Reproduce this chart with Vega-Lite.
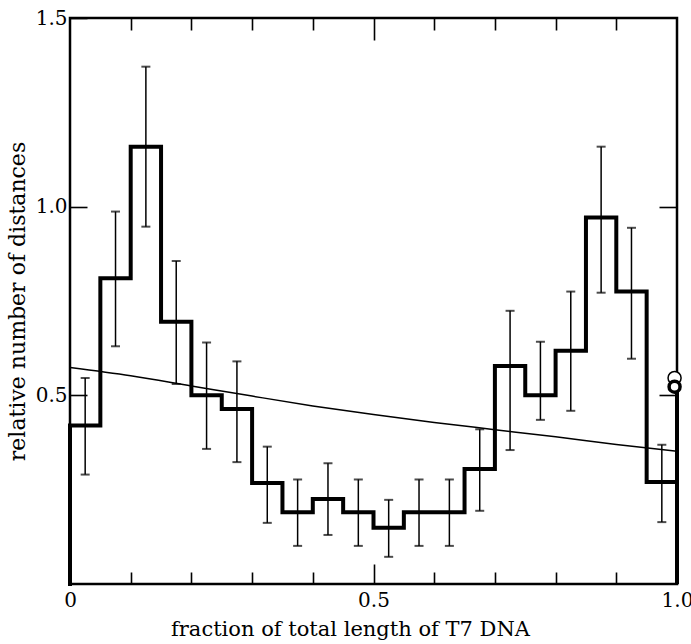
{
  "$schema": "https://vega.github.io/schema/vega-lite/v6.json",
  "width": 607,
  "height": 566,
  "autosize": "none",
  "padding": {"left": 70, "top": 18, "right": 14, "bottom": 60},
  "background": "white",
  "config": {
    "view": {"stroke": "black", "strokeWidth": 2.5},
    "font": "DejaVu Serif",
    "axis": {
      "domain": false,
      "grid": false,
      "tickColor": "black",
      "tickWidth": 1.6,
      "labelColor": "black",
      "titleColor": "black",
      "labelFont": "DejaVu Serif",
      "titleFont": "DejaVu Serif",
      "labelFontSize": 20,
      "titleFontSize": 21,
      "titleFontWeight": "normal",
      "labelFlush": false,
      "labelOverlap": false
    }
  },
  "datasets": {
    "hist": [
      {"seq": 0, "x": 0, "y": 0},
      {"seq": 1, "x": 0, "y": 0.42},
      {"seq": 2, "x": 0.05, "y": 0.81},
      {"seq": 3, "x": 0.10, "y": 1.159},
      {"seq": 4, "x": 0.15, "y": 0.695},
      {"seq": 5, "x": 0.20, "y": 0.50},
      {"seq": 6, "x": 0.25, "y": 0.464},
      {"seq": 7, "x": 0.30, "y": 0.268},
      {"seq": 8, "x": 0.35, "y": 0.19},
      {"seq": 9, "x": 0.40, "y": 0.225},
      {"seq": 10, "x": 0.45, "y": 0.19},
      {"seq": 11, "x": 0.50, "y": 0.149},
      {"seq": 12, "x": 0.55, "y": 0.19},
      {"seq": 13, "x": 0.60, "y": 0.19},
      {"seq": 14, "x": 0.65, "y": 0.305},
      {"seq": 15, "x": 0.70, "y": 0.578},
      {"seq": 16, "x": 0.75, "y": 0.50},
      {"seq": 17, "x": 0.80, "y": 0.618},
      {"seq": 18, "x": 0.85, "y": 0.971},
      {"seq": 19, "x": 0.90, "y": 0.775},
      {"seq": 20, "x": 0.95, "y": 0.27},
      {"seq": 21, "x": 1.0, "y": 0},
      {"seq": 22, "x": 1.0, "y": 0.523}
    ],
    "err": [
      {"x": 0.025, "lo": 0.29, "hi": 0.546},
      {"x": 0.075, "lo": 0.63, "hi": 0.987},
      {"x": 0.125, "lo": 0.947, "hi": 1.371},
      {"x": 0.175, "lo": 0.53, "hi": 0.856},
      {"x": 0.225, "lo": 0.358, "hi": 0.64},
      {"x": 0.275, "lo": 0.323, "hi": 0.59},
      {"x": 0.325, "lo": 0.162, "hi": 0.364},
      {"x": 0.375, "lo": 0.101, "hi": 0.277},
      {"x": 0.425, "lo": 0.13, "hi": 0.32},
      {"x": 0.475, "lo": 0.101, "hi": 0.277},
      {"x": 0.525, "lo": 0.072, "hi": 0.223},
      {"x": 0.575, "lo": 0.101, "hi": 0.277},
      {"x": 0.625, "lo": 0.101, "hi": 0.277},
      {"x": 0.675, "lo": 0.194, "hi": 0.41},
      {"x": 0.725, "lo": 0.355, "hi": 0.724},
      {"x": 0.775, "lo": 0.435, "hi": 0.642},
      {"x": 0.825, "lo": 0.459, "hi": 0.775},
      {"x": 0.875, "lo": 0.772, "hi": 1.159},
      {"x": 0.925, "lo": 0.597, "hi": 0.944},
      {"x": 0.975, "lo": 0.164, "hi": 0.369}
    ],
    "curve": [
      {"x": 0.0, "y": 0.574},
      {"x": 0.1, "y": 0.552},
      {"x": 0.2, "y": 0.525},
      {"x": 0.3, "y": 0.498},
      {"x": 0.4, "y": 0.472},
      {"x": 0.5, "y": 0.449},
      {"x": 0.6, "y": 0.428},
      {"x": 0.7, "y": 0.409},
      {"x": 0.8, "y": 0.39},
      {"x": 0.9, "y": 0.37},
      {"x": 1.0, "y": 0.352}
    ],
    "pts": [
      {"x": 0.996, "y": 0.546, "kind": "open"},
      {"x": 0.996, "y": 0.523, "kind": "closed"}
    ]
  },
  "layer": [
    {
      "data": {"name": "curve"},
      "mark": {"type": "line", "color": "black", "strokeWidth": 1.5, "interpolate": "monotone"},
      "encoding": {
        "x": {
          "field": "x", "type": "quantitative",
          "scale": {"domain": [0, 1], "nice": false, "zero": false},
          "axis": {
            "orient": "top", "labels": false, "title": null,
            "values": [0.1, 0.2, 0.3, 0.4, 0.5, 0.6, 0.7, 0.8, 0.9],
            "tickSize": {"condition": {"test": "datum.value == 0.5", "value": -22}, "value": -12}
          }
        },
        "y": {
          "field": "y", "type": "quantitative",
          "scale": {"domain": [0, 1.5], "nice": false},
          "axis": {
            "orient": "right", "labels": false, "title": null,
            "values": [0.5, 1.0], "tickSize": -18
          }
        }
      }
    },
    {
      "data": {"name": "err"},
      "mark": {"type": "errorbar", "color": "black", "rule": {"strokeWidth": 1.5}, "ticks": {"size": 9, "thickness": 2}},
      "encoding": {
        "x": {"field": "x", "type": "quantitative", "axis": null},
        "y": {"field": "lo", "type": "quantitative", "axis": null},
        "y2": {"field": "hi"}
      }
    },
    {
      "data": {"name": "hist"},
      "mark": {"type": "line", "color": "black", "strokeWidth": 4, "interpolate": "step-after", "strokeJoin": "miter", "strokeCap": "square"},
      "encoding": {
        "x": {
          "field": "x", "type": "quantitative",
          "axis": {
            "orient": "bottom",
            "title": "fraction of total length of T7 DNA",
            "titlePadding": 8,
            "titleX": 280,
            "titleAnchor": "start",
            "titleAlign": "center",
            "values": [0, 0.1, 0.2, 0.3, 0.4, 0.5, 0.6, 0.7, 0.8, 0.9, 1],
            "labelExpr": "datum.value == 0 ? '0' : datum.value == 0.5 ? '0.5' : datum.value == 1 ? '1.0' : ''",
            "tickSize": {"condition": {"test": "datum.value == 0.5", "value": -20}, "value": -12},
            "labelPadding": {"condition": {"test": "datum.value == 0.5", "value": 26}, "value": 18}
          }
        },
        "y": {
          "field": "y", "type": "quantitative",
          "axis": {
            "orient": "left",
            "title": "relative number of distances",
            "titleFontSize": 22,
            "titlePadding": 6,
            "values": [0.5, 1.0, 1.5],
            "format": ".1f",
            "tickSize": -17,
            "labelPadding": 20
          }
        },
        "order": {"field": "seq", "type": "quantitative"}
      }
    },
    {
      "data": {"name": "pts"},
      "transform": [{"filter": "datum.kind == 'open'"}],
      "mark": {"type": "point", "shape": "circle", "filled": false, "fill": "white", "fillOpacity": 1, "stroke": "black", "strokeWidth": 1.5, "size": 170, "opacity": 1},
      "encoding": {
        "x": {"field": "x", "type": "quantitative", "axis": null},
        "y": {"field": "y", "type": "quantitative", "axis": null}
      }
    },
    {
      "data": {"name": "pts"},
      "transform": [{"filter": "datum.kind == 'closed'"}],
      "mark": {"type": "point", "shape": "circle", "filled": false, "fill": "white", "fillOpacity": 1, "stroke": "black", "strokeWidth": 3.5, "size": 120, "opacity": 1},
      "encoding": {
        "x": {"field": "x", "type": "quantitative", "axis": null},
        "y": {"field": "y", "type": "quantitative", "axis": null}
      }
    }
  ],
  "resolve": {"axis": {"x": "independent", "y": "independent"}}
}
